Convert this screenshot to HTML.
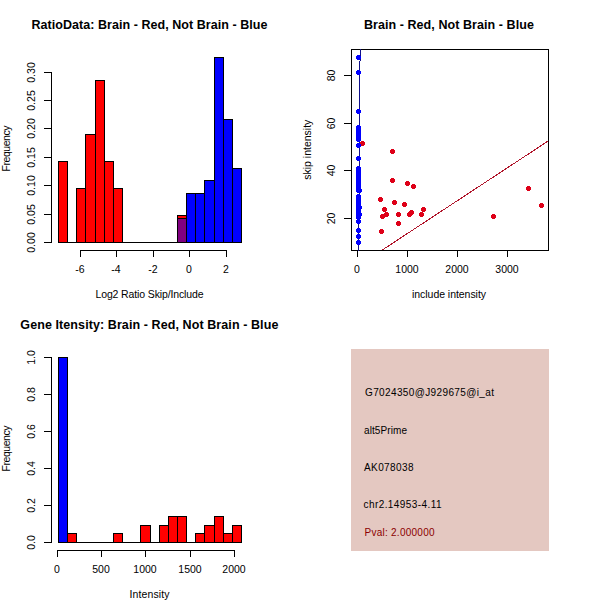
<!DOCTYPE html>
<html><head><meta charset="utf-8"><style>
html,body{margin:0;padding:0;background:#fff;width:600px;height:600px;overflow:hidden}
svg{display:block}
text{font-family:"Liberation Sans", sans-serif}
</style></head><body>
<svg width="600" height="600" viewBox="0 0 600 600">
<defs><clipPath id="c2"><rect x="351" y="49" width="198" height="202"/></clipPath></defs>
<rect width="600" height="600" fill="#fff"/>
<g shape-rendering="crispEdges">
<rect x="58.5" y="161.5" width="9" height="81" fill="#ff0000" stroke="#000" stroke-width="1"/>
<line x1="67" y1="242.5" x2="77" y2="242.5" stroke="#000" stroke-width="1"/>
<rect x="76.5" y="188.5" width="9" height="54" fill="#ff0000" stroke="#000" stroke-width="1"/>
<rect x="85.5" y="134.5" width="10" height="108" fill="#ff0000" stroke="#000" stroke-width="1"/>
<rect x="95.5" y="80.5" width="9" height="162" fill="#ff0000" stroke="#000" stroke-width="1"/>
<rect x="104.5" y="161.5" width="9" height="81" fill="#ff0000" stroke="#000" stroke-width="1"/>
<rect x="113.5" y="188.5" width="9" height="54" fill="#ff0000" stroke="#000" stroke-width="1"/>
<line x1="122" y1="242.5" x2="132" y2="242.5" stroke="#000" stroke-width="1"/>
<line x1="131" y1="242.5" x2="141" y2="242.5" stroke="#000" stroke-width="1"/>
<line x1="140" y1="242.5" x2="151" y2="242.5" stroke="#000" stroke-width="1"/>
<line x1="150" y1="242.5" x2="160" y2="242.5" stroke="#000" stroke-width="1"/>
<line x1="159" y1="242.5" x2="169" y2="242.5" stroke="#000" stroke-width="1"/>
<line x1="168" y1="242.5" x2="178" y2="242.5" stroke="#000" stroke-width="1"/>
<rect x="177.5" y="215.5" width="9" height="27" fill="#ff0000" stroke="#000" stroke-width="1"/>
<rect x="177.5" y="218.5" width="9" height="24" fill="#800080" stroke="#000" stroke-width="1"/>
<rect x="186.5" y="193.5" width="9" height="49" fill="#0000ff" stroke="#000" stroke-width="1"/>
<rect x="195.5" y="193.5" width="9" height="49" fill="#0000ff" stroke="#000" stroke-width="1"/>
<rect x="204.5" y="180.5" width="10" height="62" fill="#0000ff" stroke="#000" stroke-width="1"/>
<rect x="214.5" y="57.5" width="9" height="185" fill="#0000ff" stroke="#000" stroke-width="1"/>
<rect x="223.5" y="119.5" width="9" height="123" fill="#0000ff" stroke="#000" stroke-width="1"/>
<rect x="232.5" y="168.5" width="9" height="74" fill="#0000ff" stroke="#000" stroke-width="1"/>
<line x1="51.5" y1="72" x2="51.5" y2="243" stroke="#000" stroke-width="1"/>
<line x1="44" y1="242.5" x2="52" y2="242.5" stroke="#000" stroke-width="1"/>
<line x1="44" y1="214.5" x2="52" y2="214.5" stroke="#000" stroke-width="1"/>
<line x1="44" y1="185.5" x2="52" y2="185.5" stroke="#000" stroke-width="1"/>
<line x1="44" y1="157.5" x2="52" y2="157.5" stroke="#000" stroke-width="1"/>
<line x1="44" y1="128.5" x2="52" y2="128.5" stroke="#000" stroke-width="1"/>
<line x1="44" y1="100.5" x2="52" y2="100.5" stroke="#000" stroke-width="1"/>
<line x1="44" y1="72.5" x2="52" y2="72.5" stroke="#000" stroke-width="1"/>
<line x1="80" y1="250.5" x2="227" y2="250.5" stroke="#000" stroke-width="1"/>
<line x1="80.5" y1="250" x2="80.5" y2="257" stroke="#000" stroke-width="1"/>
<line x1="116.5" y1="250" x2="116.5" y2="257" stroke="#000" stroke-width="1"/>
<line x1="153.5" y1="250" x2="153.5" y2="257" stroke="#000" stroke-width="1"/>
<line x1="189.5" y1="250" x2="189.5" y2="257" stroke="#000" stroke-width="1"/>
<line x1="226.5" y1="250" x2="226.5" y2="257" stroke="#000" stroke-width="1"/>
</g>
<text x="80" y="273" font-size="10.5" font-weight="normal" fill="#000" text-anchor="middle">-6</text>
<text x="116" y="273" font-size="10.5" font-weight="normal" fill="#000" text-anchor="middle">-4</text>
<text x="153" y="273" font-size="10.5" font-weight="normal" fill="#000" text-anchor="middle">-2</text>
<text x="189" y="273" font-size="10.5" font-weight="normal" fill="#000" text-anchor="middle">0</text>
<text x="226" y="273" font-size="10.5" font-weight="normal" fill="#000" text-anchor="middle">2</text>
<text x="35" y="242.5" font-size="10.5" font-weight="normal" fill="#000" text-anchor="middle" transform="rotate(-90 35 242.5)">0.00</text>
<text x="35" y="214.5" font-size="10.5" font-weight="normal" fill="#000" text-anchor="middle" transform="rotate(-90 35 214.5)">0.05</text>
<text x="35" y="185.5" font-size="10.5" font-weight="normal" fill="#000" text-anchor="middle" transform="rotate(-90 35 185.5)">0.10</text>
<text x="35" y="157.5" font-size="10.5" font-weight="normal" fill="#000" text-anchor="middle" transform="rotate(-90 35 157.5)">0.15</text>
<text x="35" y="128.5" font-size="10.5" font-weight="normal" fill="#000" text-anchor="middle" transform="rotate(-90 35 128.5)">0.20</text>
<text x="35" y="100.5" font-size="10.5" font-weight="normal" fill="#000" text-anchor="middle" transform="rotate(-90 35 100.5)">0.25</text>
<text x="35" y="72.5" font-size="10.5" font-weight="normal" fill="#000" text-anchor="middle" transform="rotate(-90 35 72.5)">0.30</text>
<text x="149.5" y="297.5" font-size="10.5" font-weight="normal" fill="#000" text-anchor="middle" textLength="108" lengthAdjust="spacing">Log2 Ratio Skip/Include</text>
<text x="9.5" y="148.5" font-size="10.5" font-weight="normal" fill="#000" text-anchor="middle" textLength="46" lengthAdjust="spacing" transform="rotate(-90 9.5 148.5)">Frequency</text>
<text x="149.5" y="28.6" font-size="12.5" font-weight="bold" fill="#000" text-anchor="middle" textLength="236" lengthAdjust="spacing">RatioData: Brain - Red, Not Brain - Blue</text>
<g shape-rendering="crispEdges">
<rect x="351.5" y="49.5" width="197" height="201" fill="none" stroke="#000"/>
<line x1="344" y1="218.5" x2="352" y2="218.5" stroke="#000" stroke-width="1"/>
<line x1="344" y1="170.5" x2="352" y2="170.5" stroke="#000" stroke-width="1"/>
<line x1="344" y1="123.5" x2="352" y2="123.5" stroke="#000" stroke-width="1"/>
<line x1="344" y1="75.5" x2="352" y2="75.5" stroke="#000" stroke-width="1"/>
<line x1="357.5" y1="250" x2="357.5" y2="257" stroke="#000" stroke-width="1"/>
<line x1="407.5" y1="250" x2="407.5" y2="257" stroke="#000" stroke-width="1"/>
<line x1="457.5" y1="250" x2="457.5" y2="257" stroke="#000" stroke-width="1"/>
<line x1="507.5" y1="250" x2="507.5" y2="257" stroke="#000" stroke-width="1"/>
</g>
<text x="334.5" y="218.5" font-size="10.5" font-weight="normal" fill="#000" text-anchor="middle" transform="rotate(-90 334.5 218.5)">20</text>
<text x="334.5" y="170.5" font-size="10.5" font-weight="normal" fill="#000" text-anchor="middle" transform="rotate(-90 334.5 170.5)">40</text>
<text x="334.5" y="123.5" font-size="10.5" font-weight="normal" fill="#000" text-anchor="middle" transform="rotate(-90 334.5 123.5)">60</text>
<text x="334.5" y="75.5" font-size="10.5" font-weight="normal" fill="#000" text-anchor="middle" transform="rotate(-90 334.5 75.5)">80</text>
<text x="357" y="272.8" font-size="10.5" font-weight="normal" fill="#000" text-anchor="middle">0</text>
<text x="407" y="272.8" font-size="10.5" font-weight="normal" fill="#000" text-anchor="middle">1000</text>
<text x="457" y="272.8" font-size="10.5" font-weight="normal" fill="#000" text-anchor="middle">2000</text>
<text x="507" y="272.8" font-size="10.5" font-weight="normal" fill="#000" text-anchor="middle">3000</text>
<text x="449" y="297.5" font-size="10.5" font-weight="normal" fill="#000" text-anchor="middle" textLength="74" lengthAdjust="spacing">include intensity</text>
<text x="311.5" y="149.7" font-size="10.5" font-weight="normal" fill="#000" text-anchor="middle" textLength="60" lengthAdjust="spacing" transform="rotate(-90 311.5 149.7)">skip intensity</text>
<text x="448.9" y="28.6" font-size="12.5" font-weight="bold" fill="#000" text-anchor="middle" textLength="170" lengthAdjust="spacing">Brain - Red, Not Brain - Blue</text>
<g clip-path="url(#c2)" shape-rendering="crispEdges">
<rect x="360" y="49" width="1" height="12" fill="#10108b"/>
<rect x="359" y="61" width="1" height="135" fill="#10108b"/>
<rect x="358" y="196" width="1" height="55" fill="#10108b"/>
<line x1="381.7" y1="250.4" x2="548" y2="141.1" stroke="#b0142a" stroke-width="1"/>
</g>
<g shape-rendering="crispEdges">
<path d="M361 141h3v1h1v3h-1v1h-3v-1h-1v-3h1z" fill="#de0018"/>
<path d="M391 149h3v1h1v3h-1v1h-3v-1h-1v-3h1z" fill="#de0018"/>
<path d="M391 178h3v1h1v3h-1v1h-3v-1h-1v-3h1z" fill="#de0018"/>
<path d="M406 181h3v1h1v3h-1v1h-3v-1h-1v-3h1z" fill="#de0018"/>
<path d="M412 184h3v1h1v3h-1v1h-3v-1h-1v-3h1z" fill="#de0018"/>
<path d="M379 197h3v1h1v3h-1v1h-3v-1h-1v-3h1z" fill="#de0018"/>
<path d="M393 200h3v1h1v3h-1v1h-3v-1h-1v-3h1z" fill="#de0018"/>
<path d="M403 202h3v1h1v3h-1v1h-3v-1h-1v-3h1z" fill="#de0018"/>
<path d="M383 207h3v1h1v3h-1v1h-3v-1h-1v-3h1z" fill="#de0018"/>
<path d="M385 212h3v1h1v3h-1v1h-3v-1h-1v-3h1z" fill="#de0018"/>
<path d="M381 214h3v1h1v3h-1v1h-3v-1h-1v-3h1z" fill="#de0018"/>
<path d="M397 212h3v1h1v3h-1v1h-3v-1h-1v-3h1z" fill="#de0018"/>
<path d="M410 210h3v1h1v3h-1v1h-3v-1h-1v-3h1z" fill="#de0018"/>
<path d="M408 212h3v1h1v3h-1v1h-3v-1h-1v-3h1z" fill="#de0018"/>
<path d="M422 207h3v1h1v3h-1v1h-3v-1h-1v-3h1z" fill="#de0018"/>
<path d="M420 212h3v1h1v3h-1v1h-3v-1h-1v-3h1z" fill="#de0018"/>
<path d="M397 221h3v1h1v3h-1v1h-3v-1h-1v-3h1z" fill="#de0018"/>
<path d="M380 229h3v1h1v3h-1v1h-3v-1h-1v-3h1z" fill="#de0018"/>
<path d="M527 186h3v1h1v3h-1v1h-3v-1h-1v-3h1z" fill="#de0018"/>
<path d="M540 203h3v1h1v3h-1v1h-3v-1h-1v-3h1z" fill="#de0018"/>
<path d="M492 214h3v1h1v3h-1v1h-3v-1h-1v-3h1z" fill="#de0018"/>
<path d="M357 55h3v1h1v3h-1v1h-3v-1h-1v-3h1z" fill="#0000ff"/>
<path d="M357 70h3v1h1v3h-1v1h-3v-1h-1v-3h1z" fill="#0000ff"/>
<path d="M357 109h3v1h1v3h-1v1h-3v-1h-1v-3h1z" fill="#0000ff"/>
<path d="M357 125h3v1h1v3h-1v1h-3v-1h-1v-3h1z" fill="#0000ff"/>
<path d="M357 128h3v1h1v3h-1v1h-3v-1h-1v-3h1z" fill="#0000ff"/>
<path d="M357 130h3v1h1v3h-1v1h-3v-1h-1v-3h1z" fill="#0000ff"/>
<path d="M357 133h3v1h1v3h-1v1h-3v-1h-1v-3h1z" fill="#0000ff"/>
<path d="M357 135h3v1h1v3h-1v1h-3v-1h-1v-3h1z" fill="#0000ff"/>
<path d="M357 137h3v1h1v3h-1v1h-3v-1h-1v-3h1z" fill="#0000ff"/>
<path d="M357 143h3v1h1v3h-1v1h-3v-1h-1v-3h1z" fill="#0000ff"/>
<path d="M357 156h3v1h1v3h-1v1h-3v-1h-1v-3h1z" fill="#0000ff"/>
<path d="M357 166h3v1h1v3h-1v1h-3v-1h-1v-3h1z" fill="#0000ff"/>
<path d="M357 169h3v1h1v3h-1v1h-3v-1h-1v-3h1z" fill="#0000ff"/>
<path d="M357 172h3v1h1v3h-1v1h-3v-1h-1v-3h1z" fill="#0000ff"/>
<path d="M357 175h3v1h1v3h-1v1h-3v-1h-1v-3h1z" fill="#0000ff"/>
<path d="M357 178h3v1h1v3h-1v1h-3v-1h-1v-3h1z" fill="#0000ff"/>
<path d="M357 181h3v1h1v3h-1v1h-3v-1h-1v-3h1z" fill="#0000ff"/>
<path d="M357 184h3v1h1v3h-1v1h-3v-1h-1v-3h1z" fill="#0000ff"/>
<path d="M357 186h3v1h1v3h-1v1h-3v-1h-1v-3h1z" fill="#0000ff"/>
<path d="M357 188h3v1h1v3h-1v1h-3v-1h-1v-3h1z" fill="#0000ff"/>
<path d="M357 194h3v1h1v3h-1v1h-3v-1h-1v-3h1z" fill="#0000ff"/>
<path d="M357 197h3v1h1v3h-1v1h-3v-1h-1v-3h1z" fill="#0000ff"/>
<path d="M357 200h3v1h1v3h-1v1h-3v-1h-1v-3h1z" fill="#0000ff"/>
<path d="M357 203h3v1h1v3h-1v1h-3v-1h-1v-3h1z" fill="#0000ff"/>
<path d="M357 206h3v1h1v3h-1v1h-3v-1h-1v-3h1z" fill="#0000ff"/>
<path d="M357 209h3v1h1v3h-1v1h-3v-1h-1v-3h1z" fill="#0000ff"/>
<path d="M357 212h3v1h1v3h-1v1h-3v-1h-1v-3h1z" fill="#0000ff"/>
<path d="M357 215h3v1h1v3h-1v1h-3v-1h-1v-3h1z" fill="#0000ff"/>
<path d="M357 219h3v1h1v3h-1v1h-3v-1h-1v-3h1z" fill="#0000ff"/>
<path d="M357 228h3v1h1v3h-1v1h-3v-1h-1v-3h1z" fill="#0000ff"/>
<path d="M357 234h3v1h1v3h-1v1h-3v-1h-1v-3h1z" fill="#0000ff"/>
<path d="M357 240h3v1h1v3h-1v1h-3v-1h-1v-3h1z" fill="#0000ff"/>
<path d="M358 188h3v1h1v3h-1v1h-3v-1h-1v-3h1z" fill="#0000ff"/>
<path d="M358 205h3v1h1v3h-1v1h-3v-1h-1v-3h1z" fill="#0000ff"/>
<path d="M358 212h3v1h1v3h-1v1h-3v-1h-1v-3h1z" fill="#0000ff"/>
</g>
<g shape-rendering="crispEdges">
<line x1="58" y1="542.5" x2="68" y2="542.5" stroke="#000" stroke-width="1"/>
<rect x="67.5" y="533.5" width="9" height="9" fill="#ff0000" stroke="#000"/>
<line x1="76" y1="542.5" x2="87" y2="542.5" stroke="#000" stroke-width="1"/>
<line x1="86" y1="542.5" x2="96" y2="542.5" stroke="#000" stroke-width="1"/>
<line x1="95" y1="542.5" x2="105" y2="542.5" stroke="#000" stroke-width="1"/>
<line x1="104" y1="542.5" x2="114" y2="542.5" stroke="#000" stroke-width="1"/>
<rect x="113.5" y="533.5" width="9" height="9" fill="#ff0000" stroke="#000"/>
<line x1="122" y1="542.5" x2="132" y2="542.5" stroke="#000" stroke-width="1"/>
<line x1="131" y1="542.5" x2="141" y2="542.5" stroke="#000" stroke-width="1"/>
<rect x="140.5" y="525.5" width="10" height="17" fill="#ff0000" stroke="#000"/>
<line x1="150" y1="542.5" x2="160" y2="542.5" stroke="#000" stroke-width="1"/>
<rect x="159.5" y="525.5" width="9" height="17" fill="#ff0000" stroke="#000"/>
<rect x="168.5" y="516.5" width="9" height="26" fill="#ff0000" stroke="#000"/>
<rect x="177.5" y="516.5" width="9" height="26" fill="#ff0000" stroke="#000"/>
<line x1="186" y1="542.5" x2="196" y2="542.5" stroke="#000" stroke-width="1"/>
<rect x="195.5" y="533.5" width="9" height="9" fill="#ff0000" stroke="#000"/>
<rect x="204.5" y="525.5" width="10" height="17" fill="#ff0000" stroke="#000"/>
<rect x="214.5" y="516.5" width="9" height="26" fill="#ff0000" stroke="#000"/>
<rect x="223.5" y="533.5" width="9" height="9" fill="#ff0000" stroke="#000"/>
<rect x="232.5" y="525.5" width="9" height="17" fill="#ff0000" stroke="#000"/>
<rect x="58.5" y="357.5" width="9" height="185" fill="#0000ff" stroke="#000"/>
<line x1="51.5" y1="357" x2="51.5" y2="543" stroke="#000" stroke-width="1"/>
<line x1="44" y1="542.5" x2="52" y2="542.5" stroke="#000" stroke-width="1"/>
<line x1="44" y1="505.5" x2="52" y2="505.5" stroke="#000" stroke-width="1"/>
<line x1="44" y1="468.5" x2="52" y2="468.5" stroke="#000" stroke-width="1"/>
<line x1="44" y1="431.5" x2="52" y2="431.5" stroke="#000" stroke-width="1"/>
<line x1="44" y1="394.5" x2="52" y2="394.5" stroke="#000" stroke-width="1"/>
<line x1="44" y1="357.5" x2="52" y2="357.5" stroke="#000" stroke-width="1"/>
<line x1="57" y1="550.5" x2="235" y2="550.5" stroke="#000" stroke-width="1"/>
<line x1="57.5" y1="550" x2="57.5" y2="557" stroke="#000" stroke-width="1"/>
<line x1="101.5" y1="550" x2="101.5" y2="557" stroke="#000" stroke-width="1"/>
<line x1="145.5" y1="550" x2="145.5" y2="557" stroke="#000" stroke-width="1"/>
<line x1="190.5" y1="550" x2="190.5" y2="557" stroke="#000" stroke-width="1"/>
<line x1="234.5" y1="550" x2="234.5" y2="557" stroke="#000" stroke-width="1"/>
</g>
<text x="57" y="572.8" font-size="10.5" font-weight="normal" fill="#000" text-anchor="middle">0</text>
<text x="101" y="572.8" font-size="10.5" font-weight="normal" fill="#000" text-anchor="middle">500</text>
<text x="145" y="572.8" font-size="10.5" font-weight="normal" fill="#000" text-anchor="middle">1000</text>
<text x="190" y="572.8" font-size="10.5" font-weight="normal" fill="#000" text-anchor="middle">1500</text>
<text x="234" y="572.8" font-size="10.5" font-weight="normal" fill="#000" text-anchor="middle">2000</text>
<text x="35" y="542.5" font-size="10.5" font-weight="normal" fill="#000" text-anchor="middle" transform="rotate(-90 35 542.5)">0.0</text>
<text x="35" y="505.5" font-size="10.5" font-weight="normal" fill="#000" text-anchor="middle" transform="rotate(-90 35 505.5)">0.2</text>
<text x="35" y="468.5" font-size="10.5" font-weight="normal" fill="#000" text-anchor="middle" transform="rotate(-90 35 468.5)">0.4</text>
<text x="35" y="431.5" font-size="10.5" font-weight="normal" fill="#000" text-anchor="middle" transform="rotate(-90 35 431.5)">0.6</text>
<text x="35" y="394.5" font-size="10.5" font-weight="normal" fill="#000" text-anchor="middle" transform="rotate(-90 35 394.5)">0.8</text>
<text x="35" y="357.5" font-size="10.5" font-weight="normal" fill="#000" text-anchor="middle" transform="rotate(-90 35 357.5)">1.0</text>
<text x="149.5" y="597.8" font-size="10.5" font-weight="normal" fill="#000" text-anchor="middle" textLength="40" lengthAdjust="spacing">Intensity</text>
<text x="9.5" y="448.5" font-size="10.5" font-weight="normal" fill="#000" text-anchor="middle" textLength="46" lengthAdjust="spacing" transform="rotate(-90 9.5 448.5)">Frequency</text>
<text x="149.35" y="329.1" font-size="12.5" font-weight="bold" fill="#000" text-anchor="middle" textLength="258" lengthAdjust="spacing">Gene Itensity: Brain - Red, Not Brain - Blue</text>
<rect x="351" y="349" width="198" height="202" fill="#e4c8c1"/>
<text x="365" y="395.9" font-size="10" font-weight="normal" fill="#000" text-anchor="start" textLength="129" lengthAdjust="spacing">G7024350@J929675@i_at</text>
<text x="364" y="433.7" font-size="10" font-weight="normal" fill="#000" text-anchor="start" textLength="43" lengthAdjust="spacing">alt5Prime</text>
<text x="364" y="470.9" font-size="10" font-weight="normal" fill="#000" text-anchor="start" textLength="49.5" lengthAdjust="spacing">AK078038</text>
<text x="363.5" y="507.5" font-size="10" font-weight="normal" fill="#000" text-anchor="start" textLength="78" lengthAdjust="spacing">chr2.14953-4.11</text>
<text x="364.5" y="536.2" font-size="10" font-weight="normal" fill="#8b0000" text-anchor="start" textLength="70" lengthAdjust="spacing">Pval: 2.000000</text>
</svg>
</body></html>
